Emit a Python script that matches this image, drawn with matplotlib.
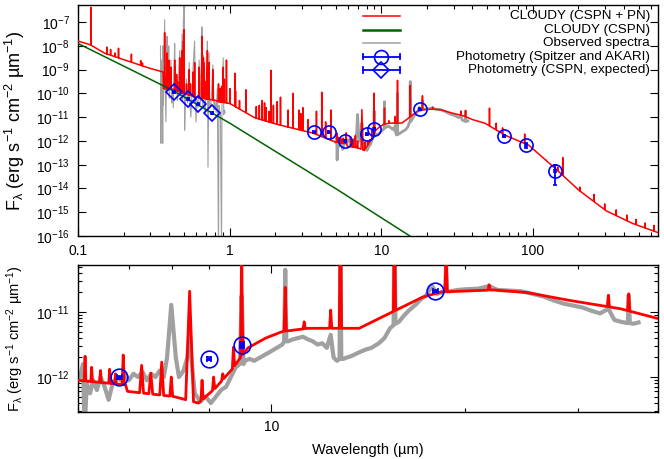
import numpy as np
import matplotlib
matplotlib.use("Agg")
import matplotlib.pyplot as plt
from matplotlib import ticker
from matplotlib.lines import Line2D

plt.rcParams['font.family'] = ['Liberation Sans', 'DejaVu Sans']
plt.rcParams['mathtext.fontset'] = 'custom'
plt.rcParams['mathtext.rm'] = 'Liberation Sans'
plt.rcParams['mathtext.it'] = 'Liberation Sans'
plt.rcParams['mathtext.bf'] = 'Liberation Sans:bold'
plt.rcParams['font.size'] = 10

# CLOUDY model (CSPN + PN): continuum, log10 F_lambda
cont_wl = [0.1, 0.12, 0.15, 0.2, 0.254, 0.30, 0.3640, 0.3660, 0.42, 0.5, 0.6,
           0.82, 0.83, 1.0, 1.46, 2.0, 2.3, 3.55, 5.0, 5.93, 5.97, 7.05, 7.7,
           8.18, 8.67, 8.92, 9.2, 9.8, 10.4, 11.4, 12.2, 13.7, 15.2, 17.2,
           18.4, 22.2, 25.0, 29.1, 35.0, 40.0, 48.5, 65.7, 94.1, 143.0,
           201.0, 305.0, 455.0, 700.0]
cont_logf = [-7.80, -7.95, -8.31, -8.58, -8.80, -8.95, -9.10, -9.80, -9.82,
             -10.00, -10.16, -10.30, -10.34, -10.42, -11.02, -11.28, -11.38,
             -11.67, -12.05, -12.12, -12.22, -12.30, -12.40, -12.17, -11.89,
             -11.72, -11.55, -11.40, -11.30, -11.25, -11.25, -11.25, -11.03,
             -10.77, -10.69, -10.66, -10.70, -10.82, -10.95, -11.10, -11.26,
             -11.76, -12.18, -13.20, -14.07, -14.94, -15.47, -15.90]

# model emission lines: wavelength, peak log10 F_lambda, half width (fraction)
line_wl = [0.1216, 0.155, 0.164, 0.175, 0.185, 0.225, 0.259, 0.266,
           0.3727, 0.3835, 0.3869, 0.3889, 0.3968, 0.4026, 0.4101, 0.4340,
           0.4363, 0.4471, 0.4541, 0.4686, 0.4711, 0.4740, 0.4861, 0.4959,
           0.5007, 0.5200, 0.5411, 0.5517, 0.5755, 0.5876, 0.6300, 0.6312,
           0.6548, 0.6563, 0.6584, 0.6678, 0.6717, 0.6731, 0.7005, 0.7065,
           0.7136, 0.7281, 0.7320, 0.7751, 0.8446, 0.8665, 0.8863, 0.9015,
           0.9069, 0.9229, 0.9532, 1.005, 1.083, 1.094, 1.162, 1.282,
           1.50, 1.57, 1.64, 1.70, 1.74, 1.82, 1.875, 1.945, 2.058, 2.166,
           2.43, 2.626, 2.87, 2.95, 3.04, 3.30, 3.74, 4.052, 4.30, 4.654,
           5.128, 5.25, 5.42, 5.60, 5.72, 5.88, 6.28, 6.49, 6.75, 6.985,
           7.46, 7.80, 8.13, 8.40, 8.73, 8.99, 10.51, 11.25, 12.37, 12.81,
           15.55, 18.71, 21.83, 33.48, 36.01, 51.8, 57.3, 63.2, 88.4, 121.9,
           146.0, 157.7, 205.0, 253.0, 298.0, 355.0, 418.0, 480.0, 550.0,
           630.0]
line_logf = [-6.38, -8.05, -8.15, -8.30, -8.10, -8.35, -8.62, -8.72,
             -7.45, -9.30, -8.30, -8.90, -8.60, -9.40, -8.90, -8.60,
             -8.90, -9.20, -9.50, -8.50, -9.10, -9.30, -8.20, -7.80,
             -7.32, -9.60, -9.00, -9.60, -9.10, -8.70, -8.90, -9.20,
             -8.30, -7.60, -7.90, -9.20, -8.50, -8.70, -9.50, -8.90,
             -8.20, -9.60, -8.70, -9.00, -9.60, -9.80, -9.70, -9.60,
             -8.90, -9.40, -8.60, -9.80, -9.15, -9.90, -10.30, -9.85,
             -10.55, -10.50, -10.30, -10.40, -10.60, -10.75, -9.03, -10.50,
             -10.35, -10.16, -10.70, -10.00, -10.70, -10.85, -10.60, -11.10,
             -10.75, -9.95, -11.20, -10.70,
             -11.68, -11.85, -11.90, -11.88, -11.95, -11.66, -11.82, -11.94,
             -11.77, -12.00, -10.68, -12.05, -12.00, -11.95, -11.54, -9.99,
             -10.62, -11.15, -10.97, -9.45, -9.66, -10.10, -10.58, -10.74,
             -10.72, -10.62, -11.25, -11.45, -11.71, -12.80, -13.10, -12.70,
             -13.94, -14.25, -14.65, -14.90, -15.12, -15.30, -15.45, -15.55]
line_dw = ([0.002] * 8 + [0.0012] * 68 +
           [0.003] * 5 + [0.004, 0.007, 0.007, 0.007, 0.005, 0.014] +
           [0.004] * 33)

# CLOUDY (CSPN) stellar continuum
cspn_model_wl = [0.1, 0.42, 1.0, 5.2, 16.0, 20.0]
cspn_model_logf = [-7.90, -9.87, -11.25, -14.07, -16.06, -16.45]

# observed optical spectrum, log10 F_lambda
opt_wl = [0.350, 0.352, 0.355, 0.358, 0.360, 0.362, 0.364, 0.366, 0.368,
          0.3727, 0.376, 0.380, 0.383, 0.3869, 0.390, 0.395, 0.3968, 0.400,
          0.405, 0.4101, 0.415, 0.420, 0.425, 0.4340, 0.4363, 0.440, 0.446,
          0.452, 0.458, 0.4686, 0.475, 0.4861, 0.490, 0.4959, 0.4985, 0.5007,
          0.505, 0.512, 0.520, 0.527, 0.535, 0.541, 0.548, 0.555, 0.563,
          0.5755, 0.5876, 0.595, 0.600, 0.607, 0.618, 0.6300, 0.640, 0.6548,
          0.6563, 0.6584, 0.665, 0.6717, 0.6731, 0.680, 0.690, 0.7065,
          0.7136, 0.720, 0.7320, 0.740, 0.755, 0.7751, 0.790, 0.800, 0.815,
          0.830, 0.845, 0.850, 0.860, 0.870, 0.885, 0.890, 0.9069, 0.915,
          0.925, 0.935]
opt_logf = [-8.0, -12.1, -8.6, -10.8, -9.0, -12.1, -8.0, -10.5, -9.2,
            -6.9, -9.7, -11.2, -9.4, -7.6, -9.9, -8.6, -8.0, -10.2,
            -9.7, -8.6, -10.4, -9.8, -10.6, -7.9, -8.6, -10.0, -9.3,
            -10.3, -9.9, -8.2, -10.1, -7.5, -10.3, -6.9, -10.0, -6.3,
            -11.55, -10.1, -9.4, -10.4, -10.2, -8.7, -10.5, -11.0, -10.2,
            -8.8, -7.8, -10.3, -11.2, -10.3, -10.6, -8.6, -10.5, -8.2,
            -7.2, -7.7, -10.6, -8.4, -8.6, -10.5, -10.8, -8.9,
            -7.8, -13.1, -8.3, -10.6, -10.4, -8.8, -10.7, -10.3, -10.8,
            -9.8, -17.0, -10.5, -10.7, -10.9, -17.0, -10.6, -8.5, -10.9,
            -10.7, -10.8]

# observed infrared spectrum (Spitzer IRS), log10 F_lambda
irs_wl = [5.00, 5.05, 5.09, 5.12, 5.16, 5.22, 5.28, 5.35, 5.42, 5.50, 5.58,
          5.66, 5.75, 5.83, 5.90, 6.00, 6.10, 6.20, 6.30, 6.40, 6.50, 6.60,
          6.70, 6.80, 6.88, 6.985, 7.10, 7.18, 7.30, 7.40, 7.46, 7.52, 7.60,
          7.75, 7.90, 8.05, 8.20, 8.35, 8.50, 8.65, 8.80, 8.93, 8.99, 9.05,
          9.10, 9.25, 9.40, 9.60, 9.80, 10.00, 10.20, 10.40, 10.47, 10.51,
          10.55, 10.62, 10.80, 11.00, 11.20, 11.40, 11.60, 11.80, 12.00,
          12.20, 12.37, 12.50, 12.65, 12.77, 12.81, 12.85, 12.95, 13.10,
          13.30, 13.50, 13.70, 14.00, 14.32, 14.70, 15.00, 15.30, 15.50,
          15.55, 15.60, 15.80, 16.10, 16.40, 16.80, 17.10, 17.40, 17.80,
          18.10, 18.40, 18.65, 18.71, 18.77, 19.00, 19.50, 20.00, 21.00,
          21.83, 22.50, 23.50, 24.50, 25.50, 26.50, 27.50, 28.50, 29.50,
          30.50, 31.50, 32.50, 33.48, 34.20, 35.00, 35.90, 36.01, 36.15,
          36.60, 37.30]
irs_logf = [-12.05, -11.95, -11.80, -12.80, -12.10, -12.25, -12.05, -12.20,
            -12.00, -12.15, -12.35, -12.10, -12.00, -12.05, -11.95, -12.05,
            -11.95, -12.00, -11.92, -12.05, -11.95, -12.00, -11.90, -12.00,
            -11.70, -10.89, -11.70, -12.00, -11.90, -11.70, -11.25, -11.80,
            -12.25, -12.38, -12.30, -12.40, -12.30, -12.20, -12.15, -12.00,
            -11.85, -11.80, -10.75, -11.80, -11.75, -11.72, -11.75, -11.70,
            -11.65, -11.60, -11.55, -11.50, -11.45, -10.35, -11.45, -11.45,
            -11.42, -11.40, -11.38, -11.42, -11.45, -11.50, -11.48, -11.55,
            -11.35, -11.70, -11.75, -11.72, -10.00, -11.72, -11.72, -11.70,
            -11.68, -11.65, -11.62, -11.58, -11.55, -11.48, -11.40, -11.25,
            -11.20, -9.50, -11.18, -11.15, -11.05, -10.97, -10.88, -10.80,
            -10.75, -10.60, -10.72, -10.70, -10.68, -10.30, -10.68, -10.68,
            -10.66, -10.65, -10.64, -10.60, -10.66, -10.67, -10.68, -10.72,
            -10.76, -10.82, -10.87, -10.90, -10.93, -10.98, -11.02, -10.95,
            -11.12, -11.15, -11.17, -10.74, -11.17, -11.18, -11.16]

# photometry (Spitzer and AKARI)
phot_wl = [3.6, 4.5, 5.8, 8.0, 9.0, 18.0, 65.0, 90.0, 140.0]
phot_wlerr = [0.04, 0.05, 0.05, 0.06, 0.05, 0.15, 1.0, 1.5, 2.5]
phot_f = [2.3e-12, 2.3e-12, 1.0e-12, 1.9e-12, 3.1e-12, 2.1e-11, 1.6e-12,
          6.6e-13, 5.4e-14]
phot_ferr = [0.1e-12, 0.1e-12, 0.05e-12, 0.1e-12, 0.35e-12, 0.5e-12,
             0.15e-12, 0.15e-12, 4.0e-14]

# photometry (CSPN, expected)
cspn_wl = [0.43, 0.535, 0.62, 0.77]
cspn_wlerr = [0.004, 0.005, 0.005, 0.006]
cspn_f = [1.1e-10, 5.8e-11, 3.5e-11, 1.5e-11]
cspn_ferr = [0.05e-10, 0.3e-11, 0.2e-11, 0.1e-11]


def build_model():
    # insert the emission lines into the model continuum
    lx = np.log10(cont_wl)
    wl = list(cont_wl)
    lf = list(cont_logf)
    for w, p, d in zip(line_wl, line_logf, line_dw):
        for ww in (w * (1 - d), w * (1 + d)):
            wl.append(ww)
            lf.append(np.interp(np.log10(ww), lx, cont_logf))
        wl.append(w)
        lf.append(p)
    order = np.argsort(wl, kind="stable")
    return np.array(wl)[order], 10 ** np.array(lf)[order]


model_wl, model_f = build_model()

RED = "#ff0000"
GREEN = "#006400"
GREY = "#a0a0a0"
BLUE = "#0000ff"

fig = plt.figure(figsize=(6.64, 4.59), dpi=100)
ax1 = fig.add_axes([0.1175, 0.4858, 0.8735, 0.5032])
ax2 = fig.add_axes([0.1175, 0.1024, 0.8735, 0.3203])

ylab = "F$_{\u03bb}$ (erg s$^{-1}$ cm$^{-2}$ \u00b5m$^{-1}$)"

# top panel
ax1.plot(opt_wl, 10 ** np.array(opt_logf), color=GREY, lw=0.8, zorder=2)
ax1.plot(irs_wl, 10 ** np.array(irs_logf), color=GREY, lw=2.0, zorder=2)
ax1.plot(model_wl, model_f, color=RED, lw=1.1, zorder=3)
ax1.plot(cspn_model_wl, 10 ** np.array(cspn_model_logf), color=GREEN,
         lw=1.1, zorder=3)
ax1.errorbar(phot_wl, phot_f, xerr=phot_wlerr, yerr=phot_ferr, fmt="o",
             ms=9.5, mfc="none", mec=BLUE, mew=1.2, ecolor=BLUE,
             elinewidth=1.3, capsize=1.5, zorder=5)
ax1.errorbar(cspn_wl, cspn_f, xerr=cspn_wlerr, yerr=cspn_ferr, fmt="D",
             ms=8, mfc="none", mec=BLUE, mew=1.2, ecolor=BLUE,
             elinewidth=1.3, capsize=1.5, zorder=5)

ax1.set_xscale("log")
ax1.set_yscale("log")
ax1.set_xlim(0.1, 670)
ax1.set_ylim(1e-16, 5.2e-7)
ax1.xaxis.set_major_formatter(ticker.FuncFormatter(lambda v, p: f"{v:g}"))
ax1.xaxis.set_minor_locator(ticker.LogLocator(base=10, subs=np.arange(2, 10), numticks=20))
ax1.xaxis.set_minor_formatter(ticker.NullFormatter())
ax1.yaxis.set_major_locator(ticker.LogLocator(base=10, numticks=30))
ax1.yaxis.set_minor_locator(ticker.NullLocator())
ax1.set_ylabel(ylab, fontsize=13)
ax1.yaxis.set_label_coords(-0.088, 0.5)

# legend drawn gnuplot-style: sample on the left, text right-justified
legend_items = [
    ("CLOUDY (CSPN + PN)", dict(color=RED, lw=1.1), None),
    ("CLOUDY (CSPN)", dict(color=GREEN, lw=1.8), None),
    ("Observed spectra", dict(color=GREY, lw=1.1), None),
    ("Photometry (Spitzer and AKARI)", dict(color=BLUE, lw=1.3), "o"),
    ("Photometry (CSPN, expected)", dict(color=BLUE, lw=1.3), "D"),
]
x0, x1, xt = 0.491, 0.555, 0.986
for i, (label, style, marker) in enumerate(legend_items):
    yy = 0.952 - i * 0.0585
    ax1.add_line(Line2D([x0, x1], [yy, yy], transform=ax1.transAxes, **style))
    if marker is not None:
        ax1.add_line(Line2D([(x0 + x1) / 2], [yy], transform=ax1.transAxes,
                            marker=marker, ms=10 if marker == "o" else 8.5,
                            mfc="none", mec=BLUE, mew=1.2, ls="none"))
        for xc in (x0, x1):
            ax1.add_line(Line2D([xc, xc], [yy - 0.012, yy + 0.012],
                                transform=ax1.transAxes, color=BLUE, lw=1.3))
    ax1.text(xt, yy, label, transform=ax1.transAxes, ha="right",
             va="center", fontsize=9.7)

# bottom panel
ax2.plot(irs_wl, 10 ** np.array(irs_logf), color=GREY, lw=3.0, zorder=2)
ax2.plot(model_wl, model_f, color=RED, lw=2.0, zorder=3)
ax2.errorbar(phot_wl, phot_f, xerr=phot_wlerr, yerr=phot_ferr, fmt="o",
             ms=12, mfc="none", mec=BLUE, mew=1.2, ecolor=BLUE,
             elinewidth=1.8, capsize=2, zorder=5)
ax2.set_xscale("log")
ax2.set_yscale("log")
ax2.set_xlim(5, 40)
ax2.set_ylim(2.9e-13, 5.3e-11)
ax2.xaxis.set_major_formatter(ticker.FuncFormatter(lambda v, p: f"{v:g}"))
ax2.xaxis.set_minor_locator(ticker.LogLocator(base=10, subs=np.arange(2, 10), numticks=20))
ax2.xaxis.set_minor_formatter(ticker.NullFormatter())
ax2.yaxis.set_minor_locator(ticker.LogLocator(base=10, subs=np.arange(2, 10), numticks=20))
ax2.yaxis.set_minor_formatter(ticker.NullFormatter())
ax2.set_ylabel(ylab, fontsize=10.5)
ax2.yaxis.set_label_coords(-0.09, 0.5)
ax2.set_xlabel("Wavelength (\u00b5m)", labelpad=6, fontsize=10.5)

for ax in (ax1, ax2):
    ax.tick_params(which="both", direction="in", top=True, right=True,
                   labelsize=10)
    ax.tick_params(which="major", length=6, width=0.8, pad=6)
    ax.tick_params(which="minor", length=3, width=0.8)
    for sp in ax.spines.values():
        sp.set_linewidth(1.0)

fig.savefig("out.png", dpi=100)
